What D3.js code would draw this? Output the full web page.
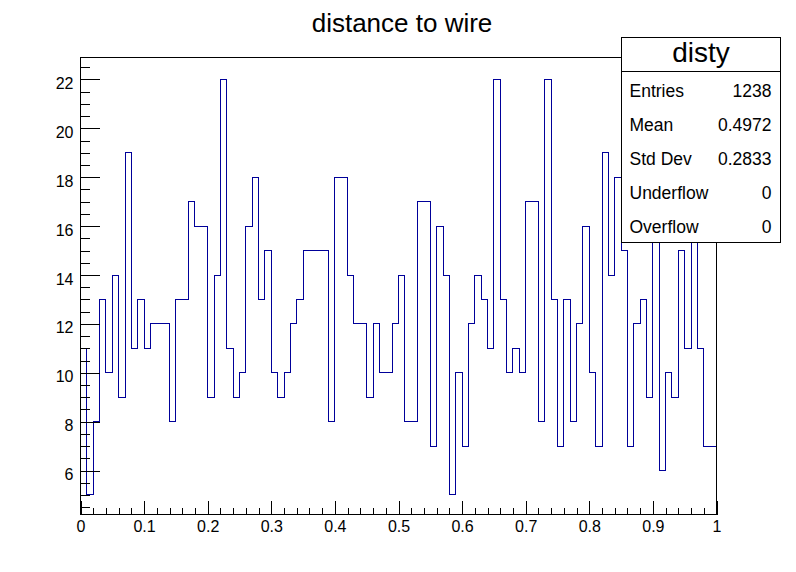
<!DOCTYPE html>
<html>
<head>
<meta charset="utf-8">
<script src="https://cdn.jsdelivr.net/npm/d3@7.9.0/dist/d3.min.js"></script>
<style>
  body { margin: 0; background: #fff; }
  svg { font-family: "Liberation Sans", Arial, sans-serif; }
</style>
</head>
<body>
<svg id="chart"></svg>
<script>
// histogram "disty": 100 bins between 0 and 1
const binCounts = [
  11, 5, 8, 13, 10, 14, 9, 19, 11, 13,
  11, 12, 12, 12, 8, 13, 13, 17, 16, 16,
  9, 14, 22, 11, 9, 10, 16, 18, 13, 15,
  10, 9, 10, 12, 13, 15, 15, 15, 15, 8,
  18, 18, 14, 12, 12, 9, 12, 10, 10, 12,
  14, 8, 8, 17, 17, 7, 16, 14, 5, 10,
  7, 12, 14, 13, 11, 22, 13, 10, 11, 10,
  17, 17, 8, 22, 13, 7, 13, 8, 12, 16,
  10, 7, 19, 14, 18, 15, 7, 12, 13, 9,
  17, 6, 10, 9, 15, 11, 20, 11, 7, 7
];
const xMajorTicks = [0, 0.1, 0.2, 0.3, 0.4, 0.5, 0.6, 0.7, 0.8, 0.9, 1];
const yMajorTicks = [6, 8, 10, 12, 14, 16, 18, 20, 22];
const statsLabels = ["Entries", "Mean", "Std Dev", "Underflow", "Overflow"];
const statsValues = ["1238", "0.4972", "0.2833", "0", "0"];
const histName = "disty";
const chartTitle = "distance to wire";

const W = 796, H = 572;
const frame = { left: 80.5, right: 716.5, top: 57.5, bottom: 514.5 };

const svg = d3.select("#chart").attr("width", W).attr("height", H);

svg.append("rect").attr("width", W).attr("height", H).attr("fill", "#fff");

const x = d3.scaleLinear().domain([0, 1]).range([frame.left, frame.right]);
const y = d3.scaleLinear().domain([4.2, 22.9]).range([frame.bottom, frame.top]);

// histogram outline
const nBins = binCounts.length;
const pts = [[0, y.domain()[0]]];
binCounts.forEach((c, i) => {
  pts.push([i / nBins, c]);
  pts.push([(i + 1) / nBins, c]);
});
pts.push([1, y.domain()[0]]);

svg.append("path")
  .datum(pts)
  .attr("fill", "none")
  .attr("stroke", "#000099")
  .attr("stroke-width", 1)
  .attr("shape-rendering", "crispEdges")
  .attr("d", d3.line().x(d => x(d[0])).y(d => y(d[1])));

// frame
svg.append("rect")
  .attr("x", frame.left).attr("y", frame.top)
  .attr("width", frame.right - frame.left)
  .attr("height", frame.bottom - frame.top)
  .attr("fill", "none").attr("stroke", "#000")
  .attr("shape-rendering", "crispEdges");

// y axis (ticks point inside the frame)
const yMinor = d3.range(4.5, 22.51, 0.5).filter(v => v % 2 !== 0);
svg.append("g")
  .attr("transform", `translate(${frame.left},0)`)
  .call(d3.axisLeft(y).tickValues(yMinor).tickSize(-9.5).tickFormat(""))
  .call(g => g.select(".domain").remove());

const yAxis = svg.append("g")
  .attr("transform", `translate(${frame.left},0)`)
  .call(d3.axisLeft(y).tickValues(yMajorTicks).tickSize(-19).tickPadding(7).tickFormat(d3.format("d")))
  .call(g => g.select(".domain").remove());
yAxis.selectAll("text").attr("dy", 9).attr("font-size", 16).attr("fill", "#000");

// x axis
const xMinor = d3.range(0, 51).map(i => i / 50).filter((v, i) => i % 5 !== 0);
svg.append("g")
  .attr("transform", `translate(0,${frame.bottom})`)
  .call(d3.axisBottom(x).tickValues(xMinor).tickSize(-6.8).tickFormat(""))
  .call(g => g.select(".domain").remove());

const xAxis = svg.append("g")
  .attr("transform", `translate(0,${frame.bottom})`)
  .call(d3.axisBottom(x).tickValues(xMajorTicks).tickSize(-13.7).tickPadding(6.5)
    .tickFormat(d => d === 0 || d === 1 ? d3.format("d")(d) : d3.format(".1f")(d)))
  .call(g => g.select(".domain").remove());
xAxis.selectAll("text").attr("font-size", 16).attr("fill", "#000");

svg.selectAll(".tick line").attr("shape-rendering", "crispEdges").attr("stroke", "#000");
svg.selectAll(".tick text").attr("font-family", "Liberation Sans, Arial, sans-serif");

// title
svg.append("text")
  .attr("x", 402).attr("y", 31.5)
  .attr("text-anchor", "middle")
  .attr("font-size", 26)
  .text(chartTitle);

// stats box
const box = { x: 621.5, y: 37.5, w: 159, h: 205, head: 34 };
const stats = svg.append("g");
stats.append("rect")
  .attr("x", box.x).attr("y", box.y).attr("width", box.w).attr("height", box.h)
  .attr("fill", "#fff").attr("stroke", "#000").attr("shape-rendering", "crispEdges");
stats.append("line")
  .attr("x1", box.x).attr("x2", box.x + box.w)
  .attr("y1", box.y + box.head).attr("y2", box.y + box.head)
  .attr("stroke", "#000").attr("shape-rendering", "crispEdges");
stats.append("text")
  .attr("x", box.x + box.w / 2).attr("y", box.y + 24)
  .attr("text-anchor", "middle").attr("font-size", 28)
  .text(histName);

const rowH = (box.h - box.head) / statsLabels.length;
stats.selectAll(".slabel").data(statsLabels).enter().append("text")
  .attr("class", "slabel")
  .attr("x", box.x + 8)
  .attr("y", (d, i) => box.y + box.head + rowH * i + 25)
  .attr("font-size", 17.5)
  .text(d => d);
stats.selectAll(".svalue").data(statsValues).enter().append("text")
  .attr("class", "svalue")
  .attr("x", box.x + box.w - 9)
  .attr("y", (d, i) => box.y + box.head + rowH * i + 25)
  .attr("text-anchor", "end")
  .attr("font-size", 17.5)
  .text(d => d);
</script>
</body>
</html>
